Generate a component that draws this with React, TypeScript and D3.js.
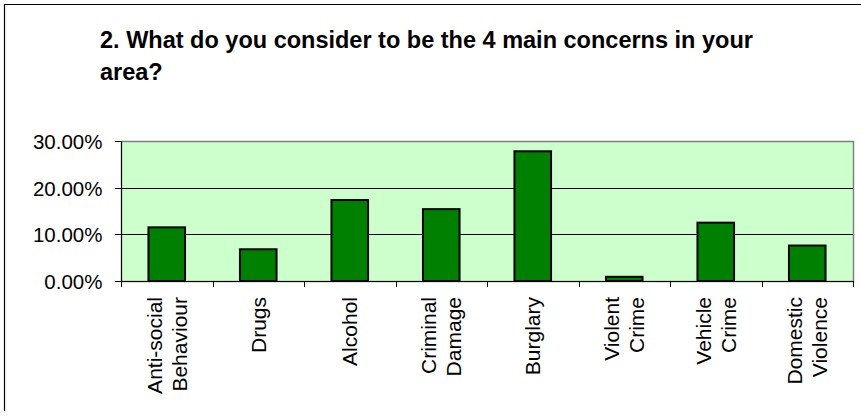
import React, { useEffect, useRef } from "react";
import * as d3 from "d3";

const categories = [
  ["Anti-social", "Behaviour"],
  ["Drugs"],
  ["Alcohol"],
  ["Criminal", "Damage"],
  ["Burglary"],
  ["Violent", "Crime"],
  ["Vehicle", "Crime"],
  ["Domestic", "Violence"],
];
const values = [11.5, 6.8, 17.35, 15.4, 27.8, 0.9, 12.5, 7.6];
const yTicks = [0, 10, 20, 30];
const titleLines = ["2. What do you consider to be the 4 main concerns in your", "area?"];

export default function App() {
  const svgRef = useRef<SVGSVGElement>(null);

  useEffect(() => {
    if (!svgRef.current) return;
    const width = 861;
    const height = 417;
    const plot = { left: 121, right: 853, top: 141, bottom: 281 };
    const font = "'Liberation Sans', Arial, sans-serif";

    const svg = d3.select(svgRef.current);
    svg.selectAll("*").remove();

    // chart frame
    svg.append("path")
      .attr("d", `M4.5,411 V4.5 H${width + 2}`)
      .attr("fill", "none")
      .attr("stroke", "#000")
      .attr("stroke-width", 1.2);

    const title = svg.append("text")
      .attr("font-family", font)
      .attr("font-size", 23.5)
      .attr("font-weight", "bold")
      .attr("fill", "#000");
    titleLines.forEach((t, i) => {
      title.append("tspan").attr("x", 100).attr("y", 48 + i * 32).text(t);
    });

    const keys = categories.map(c => c.join(" "));
    const x = d3.scaleBand().domain(keys).range([plot.left, plot.right]).paddingInner(0.6).paddingOuter(0.3);
    const y = d3.scaleLinear().domain([0, 30]).range([plot.bottom, plot.top]);

    svg.append("rect")
      .attr("x", plot.left + 0.5).attr("y", y(30) + 0.5)
      .attr("width", plot.right - plot.left).attr("height", y(0) - y(30))
      .attr("fill", "#CCFFCC")
      .attr("stroke", "#808080")
      .attr("stroke-width", 1.5);

    // gridlines
    svg.selectAll(".grid")
      .data(yTicks.filter(t => t > 0 && t < 30))
      .enter().append("line")
      .attr("x1", plot.left).attr("x2", plot.right)
      .attr("y1", d => Math.round(y(d)) + 0.5).attr("y2", d => Math.round(y(d)) + 0.5)
      .attr("stroke", "#000").attr("stroke-width", 1);

    // bars
    svg.selectAll(".bar")
      .data(values)
      .enter().append("rect")
      .attr("x", (d, i) => x(keys[i])!)
      .attr("y", d => y(d))
      .attr("width", x.bandwidth())
      .attr("height", d => y(0) - y(d))
      .attr("fill", "#008000")
      .attr("stroke", "#000")
      .attr("stroke-width", 2);

    // y axis
    svg.append("line")
      .attr("x1", plot.left + 0.5).attr("x2", plot.left + 0.5)
      .attr("y1", y(30)).attr("y2", y(0))
      .attr("stroke", "#000");
    yTicks.forEach(t => {
      const yy = Math.round(y(t)) + 0.5;
      svg.append("line")
        .attr("x1", plot.left - 6).attr("x2", plot.left)
        .attr("y1", yy).attr("y2", yy)
        .attr("stroke", "#000");
      svg.append("text")
        .attr("x", 102.5).attr("y", yy).attr("dy", "0.36em")
        .attr("text-anchor", "end")
        .attr("font-family", font).attr("font-size", 20.5)
        .attr("fill", "#000")
        .text(d3.format(".2f")(t) + "%");
    });

    // x axis
    svg.append("line")
      .attr("x1", plot.left).attr("x2", plot.right + 1)
      .attr("y1", y(0) + 0.5).attr("y2", y(0) + 0.5)
      .attr("stroke", "#000");
    d3.range(keys.length + 1).forEach(i => {
      const xx = Math.round(plot.left + i * x.step()) + 0.5;
      svg.append("line")
        .attr("x1", xx).attr("x2", xx)
        .attr("y1", y(0)).attr("y2", y(0) + 6)
        .attr("stroke", "#000");
    });

    categories.forEach((lines, i) => {
      const cx = x(keys[i])! + x.bandwidth() / 2;
      const t = svg.append("text")
        .attr("transform", `translate(${cx},297) rotate(-90)`)
        .attr("text-anchor", "end")
        .attr("font-family", font).attr("font-size", 21)
        .attr("fill", "#000");
      const spacing = 25;
      lines.forEach((ln, j) => {
        const off = (j - (lines.length - 1) / 2) * spacing + 0.36 * 21;
        t.append("tspan").attr("x", 0).attr("y", off).text(ln);
      });
    });
  }, []);

  return (
    <svg
      ref={svgRef}
      width={861}
      height={417}
      style={{ position: "absolute", left: 0, top: 0, background: "#fff" }}
    />
  );
}
